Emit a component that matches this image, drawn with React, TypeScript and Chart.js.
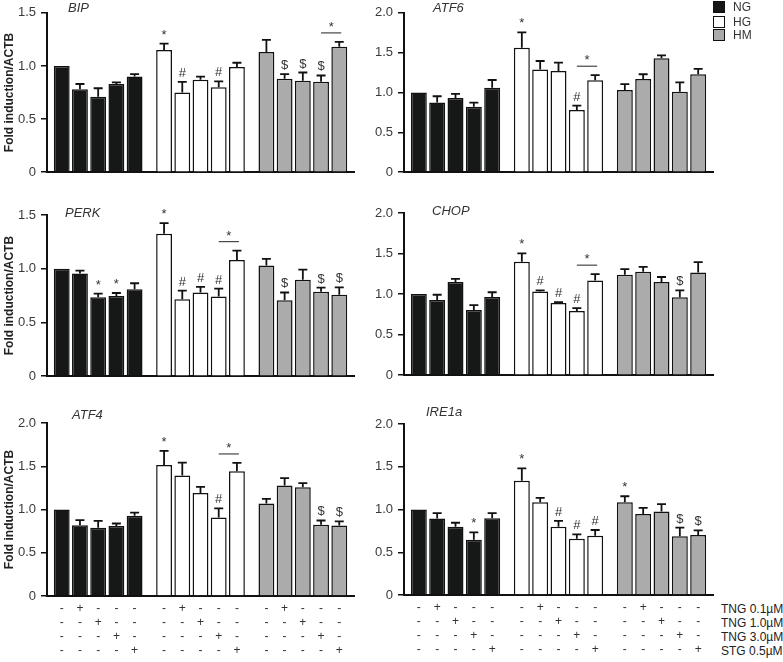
import React, { useEffect, useRef } from "react";
import { Chart, registerables } from "chart.js";

Chart.register(...registerables);

const FONT = "'Liberation Sans', Arial, Helvetica, sans-serif";

// ---------- categories / labels ----------
const groupLabels = ["NG", "HG", "HM"];
const groupColors = ["#161817", "#ffffff", "#ababab"];
const treatmentLabels = ["TNG 0.1µM", "TNG 1.0µM", "TNG 3.0µM", "STG 0.5µM"];
const signRows = [
  ["-", "+", "-", "-", "-"],
  ["-", "-", "+", "-", "-"],
  ["-", "-", "-", "+", "-"],
  ["-", "-", "-", "-", "+"],
];
const yTitle = "Fold induction/ACTB";

// ---------- BIP ----------
const bipMean = [
  [1.0, 0.78, 0.71, 0.83, 0.9],
  [1.15, 0.75, 0.87, 0.8, 0.99],
  [1.13, 0.88, 0.86, 0.85, 1.18],
];
const bipErr = [
  [0, 0.05, 0.08, 0.015, 0.023],
  [0.06, 0.1, 0.03, 0.055, 0.04],
  [0.115, 0.043, 0.078, 0.06, 0.046],
];
const bipMarks = [
  ["", "", "", "", ""],
  ["*", "#", "", "#", ""],
  ["", "$", "$", "$", ""],
];
const bipLine = [2, 3, 4];

// ---------- ATF6 ----------
const atf6Mean = [
  [1.0, 0.875, 0.93, 0.82, 1.06],
  [1.56, 1.29, 1.27, 0.78, 1.155],
  [1.03, 1.17, 1.43, 1.01, 1.23],
];
const atf6Err = [
  [0, 0.078, 0.054, 0.054, 0.097],
  [0.195, 0.105, 0.105, 0.055, 0.062],
  [0.074, 0.059, 0.035, 0.117, 0.066],
];
const atf6Marks = [
  ["", "", "", "", ""],
  ["*", "", "", "#", ""],
  ["", "", "", "", ""],
];
const atf6Line = [1, 3, 4];

// ---------- PERK ----------
const perkMean = [
  [1.0, 0.956, 0.735, 0.747, 0.809],
  [1.326, 0.715, 0.779, 0.741, 1.082],
  [1.029, 0.706, 0.897, 0.785, 0.759],
];
const perkErr = [
  [0, 0.026, 0.033, 0.027, 0.056],
  [0.098, 0.082, 0.053, 0.074, 0.086],
  [0.062, 0.073, 0.094, 0.039, 0.067],
];
const perkMarks = [
  ["", "", "*", "*", ""],
  ["*", "#", "#", "#", ""],
  ["", "$", "", "$", "$"],
];
const perkLine = [1, 3, 4];

// ---------- CHOP ----------
const chopMean = [
  [1.0, 0.926, 1.148, 0.805, 0.965],
  [1.398, 1.031, 0.891, 0.793, 1.168],
  [1.238, 1.277, 1.148, 0.961, 1.266],
];
const chopErr = [
  [0, 0.066, 0.04, 0.058, 0.058],
  [0.105, 0.016, 0.011, 0.035, 0.078],
  [0.07, 0.059, 0.063, 0.086, 0.129],
];
const chopMarks = [
  ["", "", "", "", ""],
  ["*", "#", "#", "#", ""],
  ["", "", "", "$", ""],
];
const chopLine = [1, 3, 4];

// ---------- ATF4 ----------
const atf4Mean = [
  [1.0, 0.819, 0.788, 0.808, 0.927],
  [1.515, 1.392, 1.192, 0.908, 1.442],
  [1.069, 1.277, 1.258, 0.823, 0.815],
];
const atf4Err = [
  [0, 0.058, 0.081, 0.03, 0.038],
  [0.162, 0.15, 0.07, 0.104, 0.096],
  [0.054, 0.085, 0.046, 0.05, 0.047],
];
const atf4Marks = [
  ["", "", "", "", ""],
  ["*", "", "", "#", ""],
  ["", "", "", "$", "$"],
];
const atf4Line = [1, 3, 4];

// ---------- IRE1a ----------
const ire1Mean = [
  [1.0, 0.895, 0.798, 0.647, 0.899],
  [1.337, 1.085, 0.798, 0.659, 0.694],
  [1.085, 0.946, 0.977, 0.686, 0.702],
];
const ire1Err = [
  [0, 0.062, 0.047, 0.086, 0.058],
  [0.144, 0.051, 0.07, 0.05, 0.066],
  [0.07, 0.073, 0.085, 0.101, 0.054],
];
const ire1Marks = [
  ["", "", "", "*", ""],
  ["*", "", "#", "#", "#"],
  ["*", "", "", "$", "$"],
];
const ire1Line: number[] | null = null;

// ---------- layout ----------
type Cfg = {
  name: string;
  mean: number[][];
  err: number[][];
  marks: string[][];
  line: number[] | null;
  yMax: number;
  left: number;
  top: number;
  width: number;
  height: number;
  padTop: number;
  padBottom: number;
  axisW: number;
  nameX: number;
  nameY: number;
  showTitle: boolean;
  showSigns: boolean;
};

const panels: Cfg[] = [
  { name: "BIP", mean: bipMean, err: bipErr, marks: bipMarks, line: bipLine, yMax: 1.5,
    left: 0, top: 0, width: 356, height: 185, padTop: 8, padBottom: 4, axisW: 47,
    nameX: 68, nameY: 8, showTitle: true, showSigns: false },
  { name: "ATF6", mean: atf6Mean, err: atf6Err, marks: atf6Marks, line: atf6Line, yMax: 2.0,
    left: 360, top: 0, width: 355, height: 185, padTop: 9, padBottom: 4, axisW: 44,
    nameX: 433, nameY: 8, showTitle: false, showSigns: false },
  { name: "PERK", mean: perkMean, err: perkErr, marks: perkMarks, line: perkLine, yMax: 1.5,
    left: 0, top: 192, width: 356, height: 197, padTop: 23, padBottom: 4, axisW: 47,
    nameX: 65, nameY: 213, showTitle: true, showSigns: false },
  { name: "CHOP", mean: chopMean, err: chopErr, marks: chopMarks, line: chopLine, yMax: 2.0,
    left: 360, top: 190, width: 355, height: 198, padTop: 23, padBottom: 4, axisW: 44,
    nameX: 432, nameY: 211, showTitle: false, showSigns: false },
  { name: "ATF4", mean: atf4Mean, err: atf4Err, marks: atf4Marks, line: atf4Line, yMax: 2.0,
    left: 0, top: 395, width: 356, height: 267, padTop: 28, padBottom: 66, axisW: 47,
    nameX: 72, nameY: 415, showTitle: true, showSigns: true },
  { name: "IRE1a", mean: ire1Mean, err: ire1Err, marks: ire1Marks, line: ire1Line, yMax: 2.0,
    left: 360, top: 395, width: 355, height: 267, padTop: 29, padBottom: 67, axisW: 44,
    nameX: 426, nameY: 412, showTitle: false, showSigns: true },
];

const signOffsets = [13, 27, 41, 55];

function makeAnnot(cfg: Cfg) {
  return {
    id: "annot",
    afterDatasetsDraw(chart: any) {
      const { ctx, chartArea } = chart;
      const ys = chart.scales.y;
      ctx.save();
      const topOf = (g: number, i: number) =>
        ys.getPixelForValue(cfg.mean[g][i] + cfg.err[g][i]);
      // error bars
      ctx.strokeStyle = "#111";
      ctx.lineWidth = 1.8;
      for (let i = 0; i < 5; i++) {
        const meta = chart.getDatasetMeta(i);
        meta.data.forEach((el: any, g: number) => {
          if (cfg.err[g][i] <= 0) return;
          const t = topOf(g, i);
          ctx.beginPath();
          ctx.moveTo(el.x, el.y);
          ctx.lineTo(el.x, t);
          ctx.moveTo(el.x - 4.5, t);
          ctx.lineTo(el.x + 4.5, t);
          ctx.stroke();
        });
      }
      // marks
      ctx.fillStyle = "#333";
      ctx.textAlign = "center";
      ctx.textBaseline = "alphabetic";
      ctx.font = `13px ${FONT}`;
      for (let i = 0; i < 5; i++) {
        const meta = chart.getDatasetMeta(i);
        meta.data.forEach((el: any, g: number) => {
          const m = cfg.marks[g][i];
          if (!m) return;
          const t = topOf(g, i);
          ctx.fillText(m, el.x, t - 5);
        });
      }
      // bracket line
      if (cfg.line) {
        const [g, a, b] = cfg.line;
        const ea = chart.getDatasetMeta(a).data[g];
        const eb = chart.getDatasetMeta(b).data[g];
        const ly = Math.min(topOf(g, a), topOf(g, b)) - 9;
        ctx.strokeStyle = "#222";
        ctx.lineWidth = 1;
        ctx.beginPath();
        ctx.moveTo(ea.x, ly);
        ctx.lineTo(eb.x + 2, ly);
        ctx.stroke();
        ctx.fillText("*", (ea.x + eb.x + 2) / 2, ly - 2);
      }
      // gene name
      ctx.font = `italic 13px ${FONT}`;
      ctx.textAlign = "left";
      ctx.textBaseline = "middle";
      ctx.fillStyle = "#333";
      ctx.fillText(cfg.name, cfg.nameX - cfg.left, cfg.nameY - cfg.top);
      // treatment sign table
      if (cfg.showSigns) {
        ctx.font = `12px ${FONT}`;
        ctx.textAlign = "center";
        ctx.textBaseline = "middle";
        ctx.fillStyle = "#333";
        signRows.forEach((row, r) => {
          for (let i = 0; i < 5; i++) {
            const meta = chart.getDatasetMeta(i);
            meta.data.forEach((el: any) => {
              ctx.fillText(row[i], el.x, chartArea.bottom + signOffsets[r]);
            });
          }
        });
      }
      ctx.restore();
    },
  };
}

function Panel({ cfg }: { cfg: Cfg }) {
  const ref = useRef<HTMLCanvasElement>(null);
  useEffect(() => {
    const canvas = ref.current!;
    const datasets = [0, 1, 2, 3, 4].map((i) => ({
      label: `t${i}`,
      data: cfg.mean.map((row) => row[i]),
      backgroundColor: groupColors,
      borderColor: "#111",
      borderWidth: 1.5,
      barPercentage: 0.87,
      categoryPercentage: 0.89,
    }));
    const chart = new Chart(canvas, {
      type: "bar",
      data: { labels: groupLabels, datasets },
      options: {
        animation: false,
        responsive: false,
        events: [],
        layout: { padding: { top: cfg.padTop, bottom: cfg.padBottom, left: 0, right: 2 } },
        plugins: { legend: { display: false }, tooltip: { enabled: false } },
        scales: {
          x: {
            type: "category",
            grid: { display: false },
            ticks: { display: false },
            border: { display: true, color: "#111", width: 2 },
            afterFit: (s: any) => {
              s.height = 0;
            },
          },
          y: {
            min: 0,
            max: cfg.yMax,
            ticks: {
              stepSize: 0.5,
              padding: 5,
              color: "#3a3a3a",
              font: { family: FONT, size: 13 },
              callback: (v: any) => (Number(v) === 0 ? "0" : Number(v).toFixed(1)),
            },
            grid: {
              drawOnChartArea: false,
              drawTicks: true,
              tickLength: 6,
              color: "#111",
              lineWidth: 1.5,
            },
            border: { display: true, color: "#111", width: 2 },
            title: {
              display: cfg.showTitle,
              text: yTitle,
              color: "#222",
              font: { family: FONT, size: 12, weight: "bold" },
              padding: { top: 2, bottom: 0 },
            },
            afterFit: (s: any) => {
              s.width = cfg.axisW;
            },
          },
        },
      } as any,
      plugins: [makeAnnot(cfg)],
    });
    return () => chart.destroy();
  }, [cfg]);
  return (
    <canvas
      ref={ref}
      width={cfg.width}
      height={cfg.height}
      style={{ position: "absolute", left: cfg.left, top: cfg.top, width: cfg.width, height: cfg.height }}
    />
  );
}

const legendTops = [1, 15.5, 29];
const treatmentYs = [609, 623, 637, 651];

export default function App() {
  return (
    <div
      style={{
        position: "absolute",
        left: 0,
        top: 0,
        width: 783,
        height: 662,
        background: "#fff",
        overflow: "hidden",
        fontFamily: FONT,
      }}
    >
      {panels.map((p) => (
        <Panel key={p.name} cfg={p} />
      ))}
      {groupLabels.map((g, k) => (
        <React.Fragment key={g}>
          <div
            style={{
              position: "absolute",
              left: 713,
              top: legendTops[k],
              width: 12,
              height: 12,
              boxSizing: "border-box",
              border: "1.5px solid #111",
              background: groupColors[k],
            }}
          />
          <div
            style={{
              position: "absolute",
              left: 733,
              top: legendTops[k] - 1,
              height: 14,
              lineHeight: "14px",
              fontSize: 12,
              color: "#333",
              whiteSpace: "nowrap",
            }}
          >
            {g}
          </div>
        </React.Fragment>
      ))}
      {treatmentLabels.map((t, r) => (
        <div
          key={t}
          style={{
            position: "absolute",
            left: 721,
            top: treatmentYs[r] - 7,
            height: 14,
            lineHeight: "14px",
            fontSize: 12,
            color: "#222",
            whiteSpace: "nowrap",
          }}
        >
          {t}
        </div>
      ))}
    </div>
  );
}
